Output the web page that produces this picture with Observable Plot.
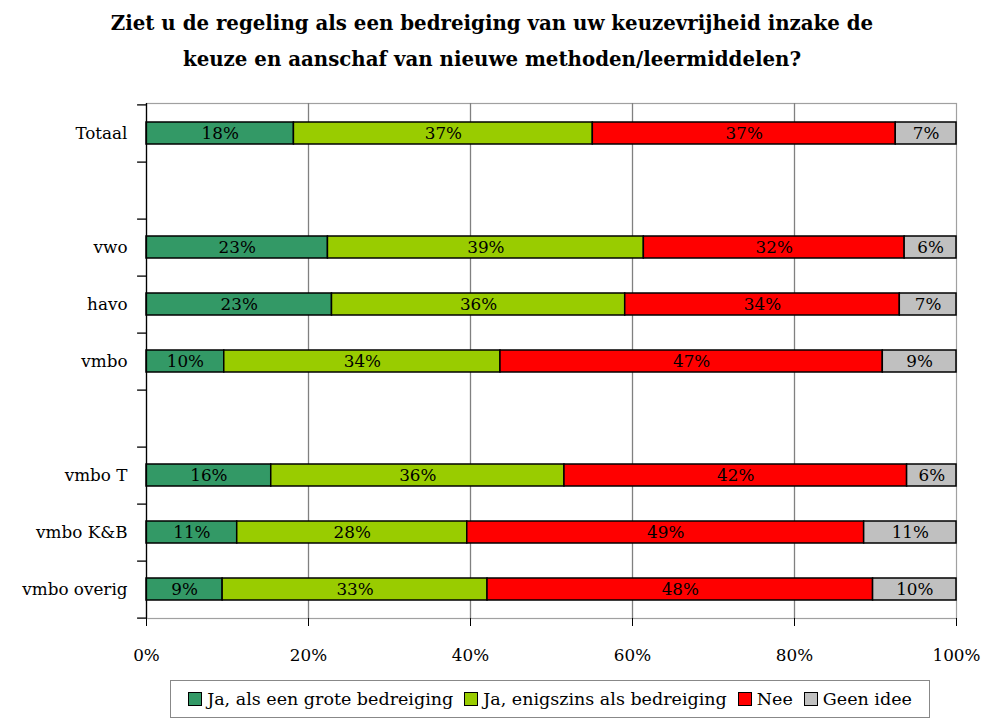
<!DOCTYPE html>
<html>
<head>
<meta charset="utf-8">
<script src="https://cdn.jsdelivr.net/npm/d3@7"></script>
<script src="https://cdn.jsdelivr.net/npm/@observablehq/plot@0.6"></script>
<style>
  body { margin: 0; background: #fff; font-family: "DejaVu Serif", serif; }
  #wrap { position: relative; width: 984px; height: 719px; }
  #title { height: 88px; box-sizing: border-box; padding-top: 5px; text-align: center; font-family: "DejaVu Serif", serif; font-weight: bold; font-size: 19.8px; line-height: 36px; color: #000; }
  #legend { position: absolute; left: 170px; top: 680px; width: 760px; height: 38px; box-sizing: border-box; border: 1px solid #888; display: flex; align-items: center; justify-content: center; font-family: "DejaVu Serif", serif; font-size: 17.5px; gap: 11px; }
  .item { display: flex; align-items: center; }
  .sw { width: 12px; height: 12px; border: 1.5px solid #000; margin-right: 5px; }
</style>
</head>
<body>
<div id="wrap">
  <div id="title">Ziet u de regeling als een bedreiging van uw keuzevrijheid inzake de<br>keuze en aanschaf van nieuwe methoden/leermiddelen?</div>
  <div id="chart"></div>
  <div id="legend"></div>
</div>
<script>
// Axis categories (blank rows are separators)
const categories = ["Totaal", "", "vwo", "havo", "vmbo", " ", "vmbo T", "vmbo K&B", "vmbo overig"];
const rows = ["Totaal", "vwo", "havo", "vmbo", "vmbo T", "vmbo K&B", "vmbo overig"];
const series = ["Ja, als een grote bedreiging", "Ja, enigszins als bedreiging", "Nee", "Geen idee"];
const colors = ["#339966", "#99CC00", "#FF0000", "#C0C0C0"];

// Measured segment widths (%)
const groteValues = [18.2, 22.4, 22.9, 9.6, 15.4, 11.2, 9.4];
const enigszinsValues = [36.9, 39.0, 36.2, 34.1, 36.2, 28.4, 32.7];
const neeValues = [37.4, 32.2, 33.9, 47.2, 42.3, 49.0, 47.6];
const geenValues = [7.5, 6.4, 7.0, 9.1, 6.1, 11.4, 10.3];

// Printed labels (%)
const groteLabels = [18, 23, 23, 10, 16, 11, 9];
const enigszinsLabels = [37, 39, 36, 34, 36, 28, 33];
const neeLabels = [37, 32, 34, 47, 42, 49, 48];
const geenLabels = [7, 6, 7, 9, 6, 11, 10];

const xTicks = [0, 20, 40, 60, 80, 100];

const valueSets = [groteValues, enigszinsValues, neeValues, geenValues];
const labelSets = [groteLabels, enigszinsLabels, neeLabels, geenLabels];
const data = [];
rows.forEach((r, i) => {
  series.forEach((s, j) => {
    data.push({cat: r, series: s, value: valueSets[j][i], label: labelSets[j][i] + "%"});
  });
});

const height = 580, marginTop = 15, marginBottom = 50;
const step = (height - marginTop - marginBottom) / categories.length;
const fs = 16.8;

const chart = Plot.plot({
  width: 984,
  height,
  marginLeft: 146,
  marginRight: 28,
  marginTop,
  marginBottom,
  style: {fontFamily: "'DejaVu Serif', serif", fontSize: fs + "px", color: "#000", background: "#fff"},
  x: {domain: [0, 100], axis: null, label: null},
  y: {domain: categories, paddingInner: 0.615, paddingOuter: 0.3075, axis: null, label: null},
  color: {domain: series, range: colors},
  marks: [
    Plot.frame({stroke: "#a0a0a0", strokeWidth: 1.2}),
    Plot.ruleX([20, 40, 60, 80], {stroke: "#808080", strokeWidth: 1.3}),
    Plot.barX(data, Plot.stackX({x: "value", y: "cat", z: "series", fill: "series", stroke: "#000", strokeWidth: 1.5})),
    Plot.textX(data, Plot.stackX({x: "value", y: "cat", z: "series", text: "label", fill: "#000", fontSize: fs})),
    Plot.ruleX([0], {stroke: "#000", strokeWidth: 1.3}),
    Plot.axisX({ticks: xTicks, tickFormat: d => d + "%", tickSize: 8, tickPadding: 23, line: true, stroke: "#000", fontSize: fs, label: null}),
    Plot.axisY({tickSize: 0, tickPadding: 19, tickFormat: d => d.trim(), fontSize: fs, label: null}),
    Plot.ruleY(categories, {y: d => d, dy: step / 2, x1: -1.1, x2: 0, stroke: "#000", strokeWidth: 1.3}),
    Plot.ruleY([categories[0]], {y: d => d, dy: -step / 2, x1: -1.1, x2: 0, stroke: "#000", strokeWidth: 1.3})
  ]
});
document.getElementById("chart").appendChild(chart);

const legend = document.getElementById("legend");
series.forEach((s, i) => {
  const it = document.createElement("div");
  it.className = "item";
  const sw = document.createElement("div");
  sw.className = "sw";
  sw.style.background = colors[i];
  const t = document.createElement("span");
  t.textContent = s;
  it.appendChild(sw);
  it.appendChild(t);
  legend.appendChild(it);
});
</script>
</body>
</html>
